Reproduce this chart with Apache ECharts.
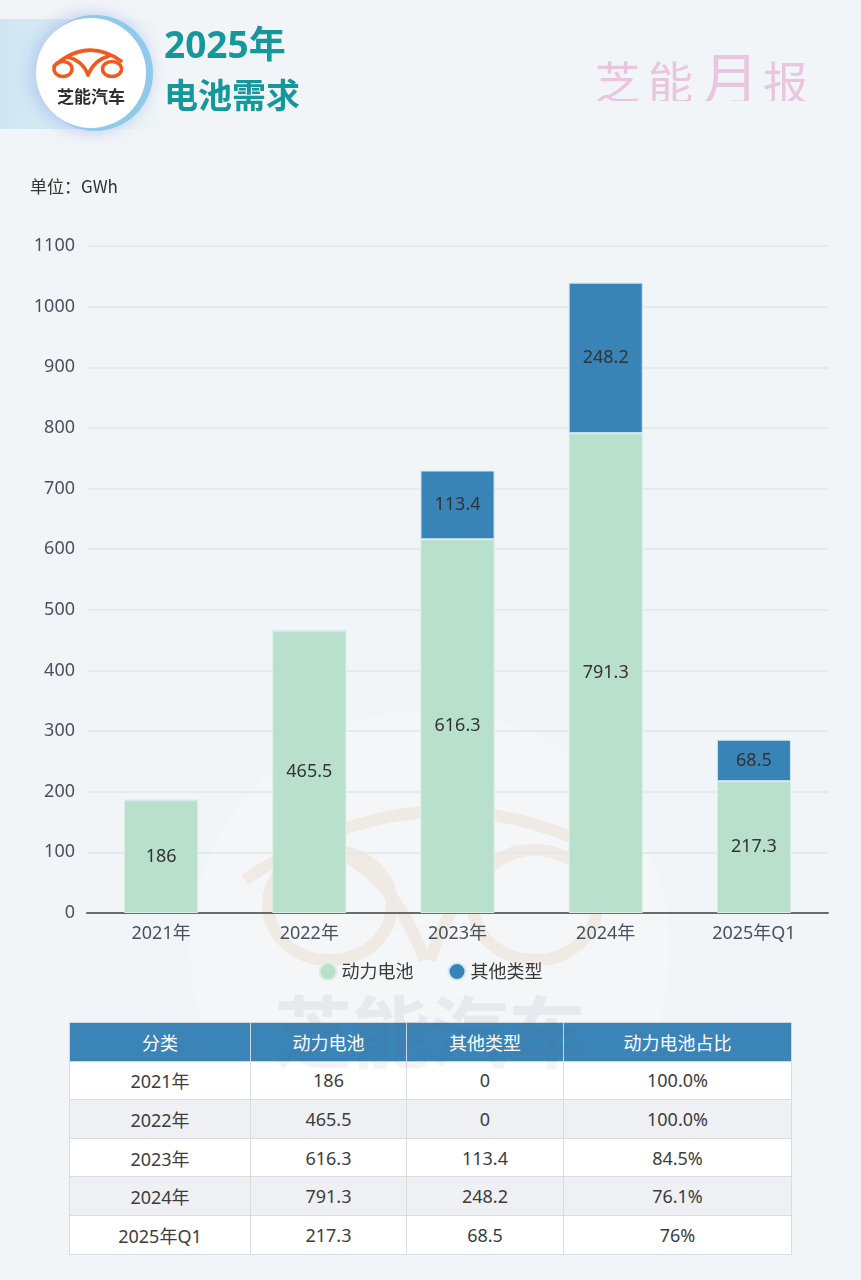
<!DOCTYPE html>
<html><head><meta charset="utf-8">
<script src="https://cdn.jsdelivr.net/npm/echarts@6/dist/echarts.min.js"></script>
<style>
html,body{margin:0;padding:0;width:861px;height:1280px;background:#f2f5f7;overflow:hidden;font-family:"Noto Sans","Noto Sans CJK SC",sans-serif;}
#chart{position:absolute;left:0;top:0;width:861px;height:1010px;}
#wm{position:absolute;left:0;top:0;width:861px;height:1280px;}
.abs{position:absolute;}
#band{left:0;top:19px;width:160px;height:110px;background:linear-gradient(90deg,#cfe6f2 0%,#dcedf6 60%,rgba(230,240,247,0) 100%);}
#circ{left:36px;top:18px;width:110px;height:110px;border-radius:50%;background:#fff;box-shadow:4px 0 0 3px #8fcbe8,0 0 14px 6px rgba(150,170,240,0.45);}
#t1{left:164px;top:20px;font-size:37px;font-weight:bold;color:#15979b;font-family:"Noto Sans","Noto Sans CJK SC",sans-serif;line-height:48px;}
#t2{left:164px;top:71px;font-size:34px;font-weight:bold;color:#15979b;font-family:"Noto Sans CJK SC",sans-serif;line-height:46px;}
#brandbox{left:580px;top:30px;width:260px;height:71px;overflow:hidden;}
.bc{position:absolute;color:#e9c6df;font-family:"Noto Sans CJK SC",sans-serif;white-space:nowrap;line-height:1;}
table{position:absolute;left:69px;top:1022px;width:723px;table-layout:fixed;border-collapse:collapse;font-family:"Noto Sans","Noto Sans CJK SC",sans-serif;font-size:18px;color:#3d3d3d;}
td,th{border:1px solid #d9dde2;text-align:center;padding:0;height:37.6px;font-weight:normal;}
th{background:#3a84b8;color:#fff;border-color:#cfd8e0;}
tr.odd td{background:#ffffff;}
tr.even td{background:#eef0f4;}
</style></head>
<body>
<svg id="wm" width="861" height="1280">
  <circle cx="430" cy="950" r="240" fill="#f5f7f9" opacity="0.6"/>
  <g fill="none" stroke="#efe6de" stroke-width="12" opacity="0.7">
    <path d="M245 880 Q 420 760 600 850"/>
    <ellipse cx="330" cy="905" rx="62" ry="55"/>
    <ellipse cx="535" cy="905" rx="62" ry="55"/>
    <path d="M330 850 Q 390 870 425 960"/>
    <path d="M520 850 Q 460 870 430 960"/>
  </g>
</svg>
<div id="chart"></div>
<div class="abs" id="band"></div>
<div class="abs" id="circ"></div>
<svg class="abs" style="left:35px;top:17px" width="112" height="112">
  <g fill="none" stroke="#ef5a1f" stroke-width="3.5" stroke-linecap="round">
    <path d="M19 49 Q 52 20 86 44"/>
    <ellipse cx="28" cy="52" rx="9" ry="7.5"/>
    <ellipse cx="77" cy="52" rx="9.5" ry="7.5"/>
    <path d="M33 40 Q 48 44 53 58"/>
    <path d="M74 39 Q 59 43 53 58"/>
  </g>
  <text x="56" y="86" text-anchor="middle" font-family="Noto Sans CJK SC" font-weight="bold" font-size="17" fill="#2f2f2f">芝能汽车</text>
</svg>
<div class="abs" id="t1">2025年</div>
<div class="abs" id="t2">电池需求</div>
<div class="abs" id="brandbox">
  <span class="bc" style="left:15px;top:28px;font-size:45px;">芝</span>
  <span class="bc" style="left:68px;top:28px;font-size:45px;">能</span>
  <span class="bc" style="left:122px;top:17px;font-size:57px;">月</span>
  <span class="bc" style="left:183px;top:28px;font-size:45px;">报</span>
</div>
<table id="tbl"></table>
<svg class="abs" style="left:0;top:0;pointer-events:none" width="861" height="1280">
  <text x="430" y="1062" text-anchor="middle" font-family="Noto Sans CJK SC" font-weight="bold" font-size="78" fill="#5a6a78" opacity="0.08">芝能汽车</text>
</svg>
<script>
var categories = ['2021年','2022年','2023年','2024年','2025年Q1'];
var powerBattery = [186, 465.5, 616.3, 791.3, 217.3];
var otherTypes = [0, 0, 113.4, 248.2, 68.5];
var powerShare = ['100.0%','100.0%','84.5%','76.1%','76%'];
var seriesNames = ['动力电池','其他类型'];
var tableHeaders = ['分类','动力电池','其他类型','动力电池占比'];
var yTicks = {min:0, max:1100, interval:100};

// table
var colW = [181,156,157,228];
var html = '<colgroup>' + colW.map(function(w){return '<col style="width:'+w+'px">';}).join('') + '</colgroup>';
html += '<tr>' + tableHeaders.map(function(h){return '<th>'+h+'</th>';}).join('') + '</tr>';
categories.forEach(function(c,i){
  html += '<tr class="'+(i%2===0?'odd':'even')+'"><td>'+c+'</td><td>'+powerBattery[i]+'</td><td>'+otherTypes[i]+'</td><td>'+powerShare[i]+'</td></tr>';
});
document.getElementById('tbl').innerHTML = html;

var chart = echarts.init(document.getElementById('chart'), null, {renderer:'canvas'});
var lbl = {show:true, position:'inside', color:'#333', fontSize:18, fontFamily:'Noto Sans',
  formatter:function(p){return p.value ? p.value : '';}};
chart.setOption({
  animation:false,
  textStyle:{fontFamily:'Noto Sans, Noto Sans CJK SC'},
  color:['#b8e0cd','#3884b6'],
  graphic:[{type:'text', left:30, top:178, style:{text:'单位：GWh', fontSize:17, fill:'#333', fontFamily:'Noto Sans CJK SC'}}],
  legend:{top:957, left:'center', icon:'circle', itemWidth:17, itemHeight:17, itemGap:34,
    textStyle:{fontSize:18, color:'#3a3a3a', fontFamily:'Noto Sans CJK SC'}, data:seriesNames},
  grid:{left:87, right:33, top:246, height:667, containLabel:false},
  xAxis:{type:'category', data:categories,
    axisLine:{lineStyle:{color:'#6b6b6b', width:2}},
    axisTick:{alignWithLabel:true, length:5, lineStyle:{color:'#555'}},
    axisLabel:{fontSize:18, color:'#4a5060', margin:12, fontFamily:'Noto Sans, Noto Sans CJK SC'}},
  yAxis:{type:'value', min:yTicks.min, max:yTicks.max, interval:yTicks.interval,
    axisLine:{show:false}, axisTick:{show:false},
    axisLabel:{fontSize:18, color:'#4a5060', margin:12, formatter:function(v){return String(v);}},
    splitLine:{lineStyle:{color:'#dbe8ec', width:1.5}}},
  series:[
    {name:seriesNames[0], type:'bar', stack:'total', barWidth:'50%', data:powerBattery, label:lbl,
      itemStyle:{borderColor:'#d8efe3', borderWidth:1}},
    {name:seriesNames[1], type:'bar', stack:'total', barWidth:'50%', data:otherTypes, label:lbl,
      itemStyle:{borderColor:'#d6e6f2', borderWidth:1}}
  ]
});
</script>
</body></html>
